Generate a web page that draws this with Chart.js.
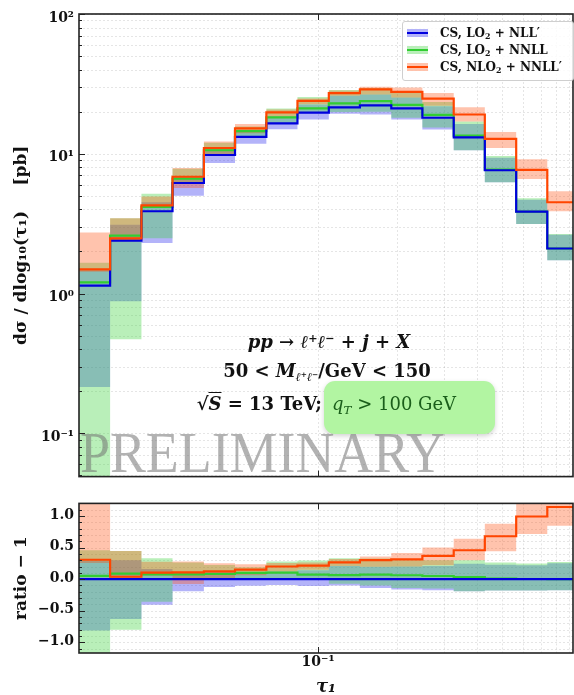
<!DOCTYPE html>
<html><head><meta charset="utf-8">
<script src="https://cdn.jsdelivr.net/npm/chart.js@4.4.1/dist/chart.umd.min.js"></script>
<style>
html,body{margin:0;padding:0;background:#fff;}
#wrap{position:relative;width:574px;height:695px;overflow:hidden;font-family:'DejaVu Serif',serif;color:#111;}
canvas{position:absolute;left:0;}
.ov{position:absolute;white-space:nowrap;line-height:1;}
.t{font-weight:bold;font-size:18px;}
sup{font-size:0.62em;vertical-align:0.5em;line-height:0;}
sub{font-size:0.66em;vertical-align:-0.3em;line-height:0;}
.ol{text-decoration:overline;}
#qbox{position:absolute;left:324px;top:381px;width:171px;height:53px;border-radius:11px;background:#b2f5a2;box-shadow:0 2px 5px rgba(0,0,0,0.18);}
#qtxt{position:absolute;left:332px;top:404px;transform:translateY(-50%);font-size:18px;color:#1a5e1a;white-space:nowrap;line-height:1;}
#leg{position:absolute;left:402px;top:21px;width:170px;height:58px;border:1px solid #cfcfcf;border-radius:3px;background:rgba(255,255,255,0.85);}
.row{position:absolute;left:4px;height:14px;font-size:12px;font-weight:bold;white-space:nowrap;line-height:14px;}
.sw{position:absolute;left:0;top:3px;width:21px;height:8px;}
.ln{position:absolute;left:0;top:3px;width:21px;height:2px;}
.lt{position:absolute;left:33px;top:0;}
#wm{position:absolute;left:80px;top:425px;font-family:'Liberation Serif',serif;font-size:56px;line-height:56px;color:rgba(115,115,115,0.55);transform-origin:0 0;white-space:nowrap;}
</style></head><body>
<div id="wrap">
<canvas id="topc" width="574" height="490" style="top:0"></canvas>
<canvas id="botc" width="574" height="205" style="top:490px"></canvas>

<div class="ov t" style="left:329px;top:342px;transform:translate(-50%,-50%)"><i>pp</i> → <i>ℓ</i><sup>+</sup><i>ℓ</i><sup>−</sup> + <i>j</i> + <i>X</i></div>
<div class="ov t" style="left:327px;top:371px;transform:translate(-50%,-50%)">50 &lt; <i>M</i><sub><i>ℓ</i><sup>+</sup><i>ℓ</i><sup>−</sup></sub>/GeV &lt; 150</div>
<div class="ov t" style="left:322px;top:404px;transform:translate(-100%,-50%)">√<span class="ol"><i>S</i></span> = 13 TeV;</div>
<div id="qbox"></div>
<div id="qtxt"><i>q</i><sub><i>T</i></sub> &gt; 100 GeV</div>
<div id="wm">PRELIMINARY</div>

<div id="leg">
 <div class="row" style="top:4px"><span class="sw" style="background:rgba(20,20,235,0.32)"><span class="ln" style="background:#0000dd"></span></span><span class="lt">CS, LO<sub>2</sub> + NLL′</span></div>
 <div class="row" style="top:21px"><span class="sw" style="background:rgba(60,210,60,0.36)"><span class="ln" style="background:#32cd32"></span></span><span class="lt">CS, LO<sub>2</sub> + NNLL</span></div>
 <div class="row" style="top:38px"><span class="sw" style="background:rgba(255,69,0,0.32)"><span class="ln" style="background:#ff4500"></span></span><span class="lt">CS, NLO<sub>2</sub> + NNLL′</span></div>
</div>
</div>
<script>
// ---- data ----
const edges = [0.01239, 0.01626, 0.02138, 0.02805, 0.0369, 0.04842, 0.06368, 0.08356, 0.1099, 0.1442, 0.1897, 0.2489, 0.3273, 0.4295, 0.5649, 0.7413, 0.975];

const blueLine  = [1.14, 2.39, 3.88, 6.18, 9.8, 13.2, 16.5, 19.7, 21.5, 22.2, 21.1, 18.1, 13.1, 7.62, 3.85, 2.10];
const blueUp    = [1.47, 3.11, 4.5, 6.8, 11.0, 14.7, 18.5, 22.5, 26.0, 26.6, 25.3, 21.9, 16.3, 9.37, 4.69, 2.63];
const blueLo    = [0.214, 0.88, 2.30, 5.0, 8.6, 11.8, 15.0, 17.6, 19.3, 19.1, 17.6, 14.9, 10.6, 6.25, 3.15, 1.73];

const greenLine = [1.20, 2.60, 4.17, 6.65, 10.6, 14.5, 18.2, 21.1, 22.9, 23.8, 22.4, 19.0, 13.5, 7.70, 3.86, 2.10];
const greenUp   = [1.66, 3.46, 5.17, 7.8, 12.0, 15.7, 21.1, 25.5, 28.6, 29.5, 27.4, 23.5, 17.0, 9.64, 4.80, 2.67];
const greenLo   = [-0.3, 0.47, 2.49, 6.1, 9.9, 13.3, 16.6, 19.9, 19.9, 20.0, 18.1, 15.4, 10.6, 6.25, 3.15, 1.73];

const orangeLine = [1.49, 2.48, 4.28, 6.85, 11.0, 15.2, 19.8, 23.9, 27.2, 28.9, 27.7, 24.8, 19.1, 12.8, 7.67, 4.50];
const orangeUp   = [2.73, 3.46, 4.95, 7.9, 12.25, 16.3, 20.7, 24.9, 28.4, 30.2, 29.8, 27.2, 21.5, 14.3, 9.12, 5.4];
const orangeLo   = [1.43, 2.42, 4.1, 5.7, 9.7, 14.0, 18.5, 22.6, 26.0, 26.6, 25.3, 22.1, 17.0, 11.0, 6.6, 3.88];

const topYMajor = [0.1, 1, 10, 100];
const topYLabels = ['10⁻¹', '10⁰', '10¹', '10²'];
const topYMinor = [0.05,0.06,0.07,0.08,0.09, 0.2,0.3,0.4,0.5,0.6,0.7,0.8,0.9, 2,3,4,5,6,7,8,9, 20,30,40,50,60,70,80,90];
const ratioMajor = [-1, -0.5, 0, 0.5, 1];
const ratioLabels = ['−1.0', '−0.5', '0.0', '0.5', '1.0'];
const ratioMinor = [-1.1,-0.9,-0.8,-0.7,-0.6,-0.4,-0.3,-0.2,-0.1,0.1,0.2,0.3,0.4,0.6,0.7,0.8,0.9,1.1];
const xMajor = [0.1];
const xLabels = ['10⁻¹'];
const xGridVals = [0.1,0.2,0.3,0.4,0.5,0.6,0.7,0.8,0.9];
const X_MIN = 0.01239, X_MAX = 0.928;

// ---- styles ----
const BLUE='#0000dd', GREEN='#32cd32', ORANGE='#ff4500';
const BLUE_BAND='rgba(20,20,235,0.32)', GREEN_BAND='rgba(60,210,60,0.36)', ORANGE_BAND='rgba(255,69,0,0.32)';
Chart.defaults.font.family = "'DejaVu Serif', serif";
Chart.defaults.color = '#111';

function steps(vals, fn){
  return edges.map((e,i)=>{const j=Math.min(i, vals.length-1); return {x:e, y:fn(vals[j], j)};});
}
const topVal = v => Math.max(v, 1e-3);
const ratioVal = (v, j) => v / blueLine[j] - 1;

function buildSets(fn){
  const ds=[];
  const band=(up,lo,color,ord)=>{
    ds.push({data:steps(up,fn), borderWidth:0, borderColor:'rgba(0,0,0,0)', pointRadius:0, fill:false, stepped:true, order:ord});
    ds.push({data:steps(lo,fn), borderWidth:0, borderColor:'rgba(0,0,0,0)', backgroundColor:color, pointRadius:0, fill:'-1', stepped:true, order:ord-1});
  };
  band(blueUp, blueLo, BLUE_BAND, 10);
  band(greenUp, greenLo, GREEN_BAND, 8);
  band(orangeUp, orangeLo, ORANGE_BAND, 6);
  const line=(vals,color,ord)=>ds.push({data:steps(vals,fn), borderColor:color, borderWidth:2.2, pointRadius:0, fill:false, stepped:true, order:ord, borderJoinStyle:'miter'});
  line(greenLine, GREEN, 3);
  line(blueLine, BLUE, 2);
  line(orangeLine, ORANGE, 1);
  return ds;
}

const framePlugin = {
  id: 'frame',
  beforeDatasetsDraw(chart, args, o){
    const {ctx, chartArea:a, scales} = chart;
    ctx.save();
    ctx.strokeStyle='rgba(0,0,0,0.13)'; ctx.lineWidth=0.8; ctx.setLineDash([2,2]);
    for(const v of o.yGrid){const y=Math.round(scales.y.getPixelForValue(v))+0.5; if(y<a.top||y>a.bottom) continue; ctx.beginPath(); ctx.moveTo(a.left,y); ctx.lineTo(a.right,y); ctx.stroke();}
    for(const v of o.xGrid){const x=Math.round(scales.x.getPixelForValue(v))+0.5; if(x<a.left||x>a.right) continue; ctx.beginPath(); ctx.moveTo(x,a.top); ctx.lineTo(x,a.bottom); ctx.stroke();}
    ctx.restore();
  },
  afterDraw(chart, args, o){
    const {ctx, chartArea:a, scales} = chart;
    ctx.save();
    ctx.strokeStyle='#222'; ctx.lineWidth=1;
    for(const v of o.yMinor){const y=Math.round(scales.y.getPixelForValue(v))+0.5; if(y<a.top||y>a.bottom) continue; ctx.beginPath(); ctx.moveTo(a.left,y); ctx.lineTo(a.left+3,y); ctx.stroke();}
    for(const v of o.yMajor){const y=Math.round(scales.y.getPixelForValue(v))+0.5; if(y<a.top||y>a.bottom) continue; ctx.beginPath(); ctx.moveTo(a.left,y); ctx.lineTo(a.left+6,y); ctx.stroke();}
    for(const v of o.xMajor){const x=Math.round(scales.x.getPixelForValue(v))+0.5; ctx.beginPath(); ctx.moveTo(x,a.top); ctx.lineTo(x,a.top+6); ctx.moveTo(x,a.bottom); ctx.lineTo(x,a.bottom-6); ctx.stroke();}
    ctx.lineWidth=1.6; ctx.strokeStyle='#222';
    ctx.strokeRect(a.left, a.top, a.right-a.left, a.bottom-a.top);
    ctx.restore();
  }
};

const tickFont = {size:14, weight:'bold'};
const titleFont = {size:17, weight:'bold'};

new Chart(document.getElementById('topc'), {
  type:'line',
  data:{datasets:buildSets(topVal)},
  plugins:[framePlugin],
  options:{
    responsive:false, animation:false, devicePixelRatio:1,
    layout:{padding:{top:14, right:1, bottom:6, left:0}},
    elements:{line:{tension:0}},
    plugins:{legend:{display:false}, tooltip:{enabled:false},
      frame:{yGrid:topYMajor.concat(topYMinor), xGrid:xGridVals, yMinor:topYMinor, yMajor:topYMajor, xMajor:xMajor}},
    scales:{
      x:{type:'logarithmic', display:false, min:X_MIN, max:X_MAX},
      y:{type:'logarithmic', min:0.049, max:100,
        afterFit(s){s.width=79;},
        afterBuildTicks(s){s.ticks=topYMajor.map(v=>({value:v}));},
        ticks:{callback:(v)=>topYLabels[topYMajor.indexOf(v)], font:tickFont, padding:5, labelOffset:4, autoSkip:false, maxRotation:0, color:'#111'},
        grid:{display:false, drawTicks:false}, border:{display:false},
        title:{display:true, text:'dσ / dlog₁₀(τ₁)\u2003\u2002[pb]', font:titleFont, padding:{top:11,bottom:0}, color:'#111'}
      }
    }
  }
});

new Chart(document.getElementById('botc'), {
  type:'line',
  data:{datasets:buildSets(ratioVal)},
  plugins:[framePlugin],
  options:{
    responsive:false, animation:false, devicePixelRatio:1,
    layout:{padding:{top:6, right:1, bottom:0, left:0}},
    elements:{line:{tension:0}},
    plugins:{legend:{display:false}, tooltip:{enabled:false},
      frame:{yGrid:ratioMajor.concat(ratioMinor), xGrid:xGridVals, yMinor:ratioMinor, yMajor:ratioMajor, xMajor:xMajor}},
    scales:{
      x:{type:'logarithmic', min:X_MIN, max:X_MAX,
        afterFit(s){s.height=42;},
        afterBuildTicks(s){s.ticks=xMajor.map(v=>({value:v}));},
        ticks:{callback:(v)=>xLabels[xMajor.indexOf(v)], font:tickFont, padding:1, autoSkip:false, maxRotation:0, color:'#111'},
        grid:{display:false, drawTicks:false}, border:{display:false},
        title:{display:true, text:'τ₁', font:{size:18, weight:'bold', style:'italic', lineHeight:0.8}, padding:{top:0,bottom:0}, color:'#111'}
      },
      y:{type:'linear', min:-1.17, max:1.2,
        afterFit(s){s.width=79;},
        afterBuildTicks(s){s.ticks=ratioMajor.map(v=>({value:v}));},
        ticks:{callback:(v)=>ratioLabels[ratioMajor.indexOf(v)], font:tickFont, padding:5, labelOffset:-1, autoSkip:false, maxRotation:0, color:'#111'},
        grid:{display:false, drawTicks:false}, border:{display:false},
        title:{display:true, text:'ratio − 1', font:titleFont, padding:{top:11,bottom:0}, color:'#111'}
      }
    }
  }
});

// fit watermark width to the reference span
const wm = document.getElementById('wm');
const w = wm.getBoundingClientRect().width;
if (w > 0) wm.style.transform = 'scaleX(' + (365 / w) + ')';
</script>
</body></html>
